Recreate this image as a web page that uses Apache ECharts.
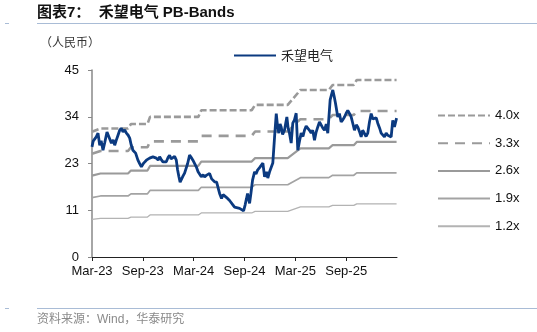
<!DOCTYPE html>
<html><head><meta charset="utf-8">
<script src="https://cdn.jsdelivr.net/npm/echarts@6/dist/echarts.min.js"></script>
<style>html,body{margin:0;padding:0;background:#fff}#c{width:537px;height:332px}</style>
</head><body><div id="c"></div>
<script>
// x values: months since 1 Mar 2023
const tickLabels = ['Mar-23','Sep-23','Mar-24','Sep-24','Mar-25','Sep-25'];
const tickMonths = [0,6,12,18,24,30];
const priceName = '禾望电气';
const priceX = [0,0.14,0.32,0.5,0.71,0.91,1.08,1.3,1.5,1.77,2.0,2.29,2.5,2.68,2.85,3.07,3.27,3.44,3.66,3.86,4.06,4.27,4.45,4.62,4.83,5.15,5.42,5.62,5.83,6.1,6.42,6.63,6.8,6.98,7.19,7.39,7.59,7.81,7.98,8.16,8.37,8.57,8.77,8.99,9.16,9.34,9.55,9.75,9.95,10.1,10.26,10.4,10.54,10.75,10.93,11.11,11.29,11.52,11.7,11.91,12.11,12.31,12.52,12.7,12.9,13.11,13.29,13.53,13.88,14.12,14.47,14.71,14.86,15.06,15.29,15.47,15.65,16.0,16.24,16.47,16.65,16.83,17.06,17.42,17.65,17.89,18.07,18.24,18.36,18.6,18.77,18.95,19.19,19.36,19.54,19.78,20.01,20.17,20.37,20.6,20.75,20.96,21.19,21.34,21.55,21.75,21.9,22.05,22.2,22.33,22.5,22.72,22.85,23.0,23.15,23.31,23.51,23.7,23.9,24.1,24.29,24.5,24.69,24.9,25.08,25.28,25.47,25.67,25.87,26.05,26.26,26.45,26.65,26.85,27.05,27.25,27.44,27.65,27.83,28.11,28.42,28.6,28.74,29.01,29.2,29.41,29.6,29.8,30.0,30.19,30.4,30.59,30.8,30.98,31.2,31.37,31.6,31.77,31.95,32.16,32.35,32.55,32.75,32.95,33.15,33.34,33.55,33.73,33.95,34.13,34.32,34.52,34.72,34.91,35.1,35.31,35.5,35.7,35.95];
const priceY = [26.5,27.9,27.7,28.9,29.8,26.9,28.0,25.7,27.5,30.1,30.5,27.4,28.2,26.9,28.0,29.3,30.5,31.0,30.1,30.6,29.8,29.3,28.6,27.0,25.7,25.0,23.3,22.5,21.7,22.6,23.3,23.0,23.8,23.4,24.1,24.5,23.8,23.3,24.1,23.5,22.9,23.3,22.9,24.0,24.5,23.6,23.8,24.2,23.3,21.0,19.3,18.0,17.7,19.5,20.2,20.0,22.5,24.5,24.0,23.3,22.9,21.7,20.5,20.4,19.3,19.8,19.3,19.7,20.1,18.8,18.1,18.0,17.7,15.3,14.1,15.0,14.9,14.1,13.6,13.3,12.5,12.0,12.2,11.7,11.5,11.1,12.5,14.1,15.3,12.9,15.5,18.5,20.5,20.0,20.9,21.5,21.7,22.6,19.3,20.5,19.0,20.5,20.1,22.6,28.9,34.5,31.5,29.8,32.0,31.3,29.5,30.5,32.0,33.7,31.0,29.8,27.4,32.2,33.0,34.6,25.7,28.0,29.8,29.0,30.5,31.5,31.3,30.5,29.8,30.5,28.1,30.0,31.3,32.5,32.2,31.0,30.5,32.0,29.8,37.8,40.2,38.5,37.0,33.7,34.5,32.5,33.0,33.7,34.6,35.3,34.5,33.7,32.0,30.5,31.8,31.3,30.0,28.9,30.5,30.5,29.0,29.8,32.5,34.5,33.2,32.9,33.5,32.2,31.0,29.8,30.2,28.9,29.8,29.3,29.5,28.9,32.9,31.3,33.4];
// book value per share (step changes at report releases)
const bvpsX = [0,1.0,4.25,4.6,6.55,6.85,12.55,12.9,18.85,19.25,23.1,24.6,27.95,28.4,30.9,31.25,35.95];
const bvpsY = [7.53,7.73,7.73,8.0,8.0,8.43,8.43,8.83,8.83,9.15,9.15,10.05,10.05,10.35,10.35,10.65,10.65];
const bandNames = ['4.0x','3.3x','2.6x','1.9x','1.2x'];
const bandMultiples = [4.0,3.3,2.6,1.9,1.2];

const bandStyles = [
  {color:'#9a9a9a', width:2.6, type:[7,3]},
  {color:'#9a9a9a', width:2.6, type:[10,7]},
  {color:'#9a9a9a', width:2.2, type:'solid'},
  {color:'#a3a3a3', width:1.7, type:'solid'},
  {color:'#b3b3b3', width:1.3, type:'solid'}
];

const latin = '"Liberation Sans", Arial, "Noto Sans CJK SC", sans-serif';
const cjk = '"Noto Sans CJK SC", "Liberation Sans", sans-serif';

const series = bandNames.map((n, k) => ({
  name: n, type: 'line', symbol: 'none', silent: true, z: 2,
  data: bvpsX.map((x, i) => [x, +(bvpsY[i] * bandMultiples[k]).toFixed(3)]),
  lineStyle: bandStyles[k], itemStyle: {color: bandStyles[k].color}
}));
series.push({
  name: priceName, type: 'line', symbol: 'none', z: 5,
  data: priceX.map((x, i) => [x, priceY[i]]),
  lineStyle: {color: '#0b3a80', width: 2.8}, itemStyle: {color: '#0b3a80'}
});

const hiddenSymbol = {color: 'rgba(0,0,0,0)', borderWidth: 0, opacity: 0};

const chart = echarts.init(document.getElementById('c'), null, {renderer: 'canvas'});
chart.setOption({
  animation: false,
  backgroundColor: '#fff',
  grid: {left: 92, top: 70, width: 305, height: 187, containLabel: false},
  legend: [
    {data: [priceName], left: 228, top: 44, itemWidth: 42, itemHeight: 14, itemGap: 10,
     itemStyle: hiddenSymbol,
     textStyle: {fontFamily: cjk, fontSize: 13, color: '#222'}},
    {data: bandNames, orient: 'vertical', left: 432, top: 104, itemWidth: 52, itemHeight: 14, itemGap: 14.7,
     itemStyle: hiddenSymbol,
     textStyle: {fontFamily: latin, fontSize: 13, color: '#111'}}
  ],
  xAxis: {
    type: 'value', min: 0, max: 36,
    axisLine: {lineStyle: {color: '#222', width: 1}},
    axisTick: {show: true, length: 4, customValues: tickMonths, lineStyle: {color: '#222'}},
    axisLabel: {customValues: tickMonths, margin: 8, fontFamily: latin, fontSize: 13, color: '#111',
      formatter: v => tickLabels[Math.round(v / 6)] || ''},
    splitLine: {show: false}
  },
  yAxis: {
    type: 'value', min: 0, max: 45, interval: 11.25,
    axisLine: {show: true, lineStyle: {color: '#888', width: 1.5}},
    axisTick: {show: true, length: 4, lineStyle: {color: '#888'}},
    axisLabel: {margin: 13, fontFamily: latin, fontSize: 13, color: '#111', formatter: v => String(Math.round(v))},
    splitLine: {show: false}
  },
  graphic: [
    {type: 'text', left: 37, top: 5, style: {text: '图表7：  禾望电气 PB-Bands', font: 'bold 15px ' + latin, fill: '#111'}},
    {type: 'line', shape: {x1: 37, y1: 23.5, x2: 537, y2: 23.5}, style: {stroke: '#a9bcd6', lineWidth: 1}},
    {type: 'line', shape: {x1: 5, y1: 23.5, x2: 9, y2: 23.5}, style: {stroke: '#a9bcd6', lineWidth: 1}},
    {type: 'text', left: 40, top: 36, style: {text: '（人民币）', font: '12px ' + cjk, fill: '#333'}},
    {type: 'line', shape: {x1: 37, y1: 308.5, x2: 537, y2: 308.5}, style: {stroke: '#a9bcd6', lineWidth: 1}},
    {type: 'line', shape: {x1: 5, y1: 308.5, x2: 9, y2: 308.5}, style: {stroke: '#a9bcd6', lineWidth: 1}},
    {type: 'text', left: 37, top: 314, style: {text: '资料来源：Wind，华泰研究', font: '12px ' + latin, fill: '#8a8a8a'}}
  ],
  series: series
});
</script>
</body></html>
